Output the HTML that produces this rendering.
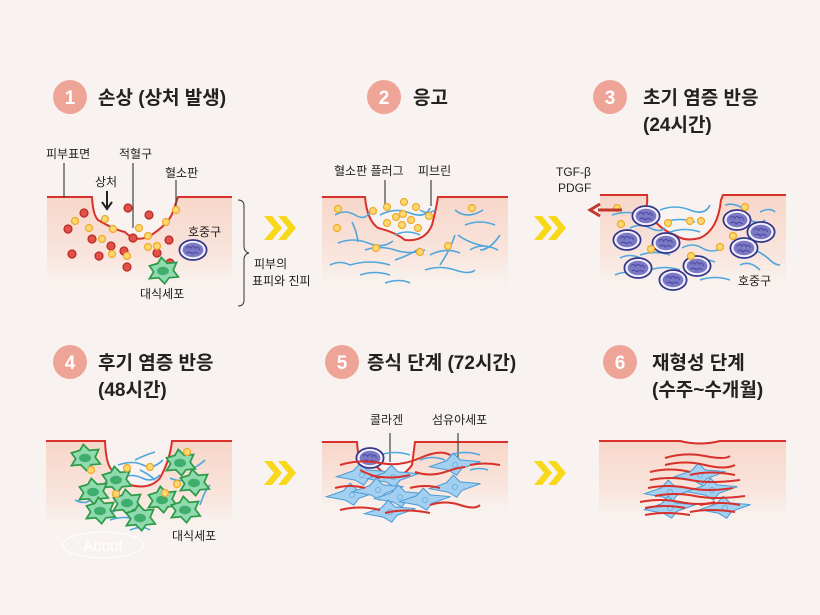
<!DOCTYPE html>
<html><head><meta charset="utf-8"><style>
html,body{margin:0;padding:0;background:#f8f3f0;}
svg{display:block;}
text{font-family:"Liberation Sans","Noto Sans CJK KR",sans-serif;}
.t{font-size:19px;font-weight:bold;fill:#222;}
.n{font-size:19px;font-weight:bold;fill:#fff;text-anchor:middle;}
.l{font-size:12px;fill:#222;}
.bf{fill:none;stroke:#4ea6dd;stroke-width:1.6;}
.rf{fill:none;stroke:#d8312b;stroke-width:2;}
.ln{stroke:#444;stroke-width:1.2;}
</style></head><body>
<svg width="820" height="615" viewBox="0 0 820 615" xmlns="http://www.w3.org/2000/svg">
<defs>
<linearGradient id="sk" x1="0" y1="0" x2="0" y2="1">
<stop offset="0" stop-color="#f7d6c9"/><stop offset="0.6" stop-color="#f9e6de"/><stop offset="1" stop-color="#f8f3f0" stop-opacity="0"/></linearGradient>
<g id="pl"><circle r="3.5" fill="#fbd870" stroke="#f0a92a" stroke-width="1.2"/></g>
<g id="rb"><circle r="4" fill="#e2504a" stroke="#b52b26" stroke-width="1.2"/></g>
<g id="ne"><g transform="scale(0.8)"><ellipse rx="17" ry="12.5" fill="#f2f0fa" stroke="#34358a" stroke-width="2.2"/><ellipse rx="13" ry="9" fill="#7b79c6"/><path d="M-9,-2 q3,-5 6,0 q3,-5 6,0 q3,-4 5,2 M-8,4 q4,-3 7,1 q3,-4 8,0" stroke="#4a4aa0" fill="none" stroke-width="1.3"/></g></g>
<g id="ma"><g transform="scale(0.85)"><path d="M-16,-6 L-6,-9 L-2,-16 L5,-9 L16,-10 L12,-1 L18,7 L7,8 L2,15 L-5,8 L-16,9 L-11,1 Z" fill="#8fdaae" stroke="#2d9a48" stroke-width="2"/><ellipse rx="7" ry="5" fill="#3fae6c"/></g></g>
<g id="fb"><g transform="scale(0.85)"><path d="M-30,2 L-10,-5 L-2,-14 L6,-6 L30,-4 L8,4 L2,12 L-8,6 Z" fill="#a3d0f0" stroke="#4a9bd6" stroke-width="1.2"/><circle r="3" fill="none" stroke="#6aaee0"/></g></g>
<g id="chev"><path d="M-12,-12 L-4,-12 L6,0 L-4,12 L-12,12 L-2,0 Z M2,-12 L10,-12 L20,0 L10,12 L2,12 L12,0 Z" fill="#f7d81a"/></g>
</defs>

<g>
<circle cx="70" cy="97" r="17" fill="#eea497"/><text class="n" x="70" y="104">1</text><text class="t" x="98" y="104">손상 (상처 발생)</text>
<circle cx="384" cy="97" r="17" fill="#eea497"/><text class="n" x="384" y="104">2</text><text class="t" x="413" y="104">응고</text>
<circle cx="610" cy="97" r="17" fill="#eea497"/><text class="n" x="610" y="104">3</text><text class="t" x="643" y="104">초기 염증 반응</text><text class="t" x="643" y="131">(24시간)</text>
<circle cx="70" cy="362" r="17" fill="#eea497"/><text class="n" x="70" y="369">4</text><text class="t" x="98" y="369">후기 염증 반응</text><text class="t" x="98" y="396">(48시간)</text>
<circle cx="342" cy="362" r="17" fill="#eea497"/><text class="n" x="342" y="369">5</text><text class="t" x="367" y="369">증식 단계 (72시간)</text>
<circle cx="620" cy="362" r="17" fill="#eea497"/><text class="n" x="620" y="369">6</text><text class="t" x="652" y="369">재형성 단계</text><text class="t" x="652" y="396">(수주~수개월)</text>
</g>

<use href="#chev" x="276" y="228"/><use href="#chev" x="546" y="228"/>
<use href="#chev" x="276" y="473"/><use href="#chev" x="546" y="473"/>

<!-- Panel 1 -->
<path d="M47,197 H92 Q93,215 98,220 Q115,230 125,232 Q135,243 150,236 Q168,224 172,214 Q176,203 178,197 H232 V300 H47 Z" fill="url(#sk)"/>
<path d="M47,197 H92 Q93,215 98,220 Q115,230 125,232 Q135,243 150,236 Q168,224 172,214 Q176,203 178,197 H232" class="rf" stroke-width="1.5"/>
<line x1="64" y1="163" x2="64" y2="198" class="ln"/><line x1="133" y1="163" x2="133" y2="228" class="ln"/><line x1="176" y1="180" x2="176" y2="207" class="ln"/>
<text class="l" x="46" y="158">피부표면</text><text class="l" x="119" y="158">적혈구</text><text class="l" x="165" y="177">혈소판</text><text class="l" x="95" y="186">상처</text>
<path d="M107,191 V207 M102,202 L107,209 L112,202" stroke="#222" stroke-width="2" fill="none"/>
<g>
<use href="#rb" x="84" y="213"/><use href="#rb" x="128" y="208"/><use href="#rb" x="149" y="215"/><use href="#rb" x="68" y="229"/><use href="#rb" x="92" y="239"/><use href="#rb" x="111" y="246"/><use href="#rb" x="133" y="238"/><use href="#rb" x="124" y="251"/><use href="#rb" x="169" y="240"/><use href="#rb" x="72" y="254"/><use href="#rb" x="99" y="256"/><use href="#rb" x="157" y="253"/><use href="#rb" x="127" y="267"/><use href="#rb" x="170" y="263"/>
<use href="#pl" x="75" y="221"/><use href="#pl" x="105" y="219"/><use href="#pl" x="89" y="228"/><use href="#pl" x="113" y="229"/><use href="#pl" x="139" y="228"/><use href="#pl" x="166" y="222"/><use href="#pl" x="176" y="210"/><use href="#pl" x="102" y="239"/><use href="#pl" x="148" y="236"/><use href="#pl" x="157" y="246"/><use href="#pl" x="148" y="247"/><use href="#pl" x="112" y="254"/><use href="#pl" x="127" y="256"/>
</g>
<use href="#ne" x="193" y="250"/><use href="#ma" x="163" y="271"/>
<text class="l" x="188" y="236">호중구</text><text class="l" x="140" y="298">대식세포</text>
<path d="M238,200 q6,0 6,6 v40 q0,6 5,7 q-5,1 -5,7 v40 q0,6 -6,6" fill="none" stroke="#333" stroke-width="1"/>
<text class="l" x="254" y="268">피부의</text><text class="l" x="252" y="285">표피와 진피</text>

<!-- Panel 2 -->
<path d="M322,197 H365 Q367,220 378,228 Q395,232 405,240 Q425,242 432,225 Q436,210 438,197 H508 V300 H322 Z" fill="url(#sk)"/>
<path d="M322,197 H365 Q367,220 378,228 Q395,232 405,240 Q425,242 432,225 Q436,210 438,197 H508" class="rf" stroke-width="1.5"/>
<line x1="385" y1="180" x2="385" y2="208" class="ln"/><line x1="431" y1="180" x2="431" y2="206" class="ln"/>
<text class="l" x="334" y="175">혈소판 플러그</text><text class="l" x="418" y="175">피브린</text>
<g class="bf">
<path d="M335,215 q10,-6 20,0 t15,-3"/><path d="M352,222 q5,10 6,20"/><path d="M338,243 q15,-6 30,0 t25,-2"/><path d="M380,215 q15,-8 30,-2 t20,-5"/><path d="M395,235 q12,-6 25,0"/><path d="M420,210 q8,5 15,0"/><path d="M365,250 q15,-5 30,0 t30,0"/><path d="M350,265 q20,-6 40,0"/><path d="M395,260 q15,-5 25,-12"/><path d="M430,255 q15,-8 30,-2"/><path d="M455,210 q12,10 28,0"/><path d="M465,225 q15,-6 30,0"/><path d="M458,235 q10,8 30,12"/><path d="M470,250 q12,-8 28,0"/><path d="M480,250 q10,0 20,-15"/><path d="M360,275 q15,-5 30,0"/><path d="M425,270 q15,-5 30,0 t20,0"/><path d="M440,265 q10,-15 15,-30"/><path d="M330,265 q10,-5 20,0"/><path d="M385,283 q15,-5 25,0"/>
</g>
<g>
<use href="#pl" x="338" y="209"/><use href="#pl" x="337" y="228"/><use href="#pl" x="373" y="211"/><use href="#pl" x="387" y="207"/><use href="#pl" x="404" y="202"/><use href="#pl" x="416" y="207"/><use href="#pl" x="396" y="217"/><use href="#pl" x="403" y="214"/><use href="#pl" x="411" y="220"/><use href="#pl" x="387" y="223"/><use href="#pl" x="402" y="225"/><use href="#pl" x="418" y="228"/><use href="#pl" x="429" y="216"/><use href="#pl" x="376" y="248"/><use href="#pl" x="420" y="252"/><use href="#pl" x="448" y="246"/><use href="#pl" x="472" y="208"/>
</g>

<!-- Panel 3 -->
<path d="M600,195 H647 Q648,205 645,210 Q660,230 675,235 Q685,242 700,238 Q718,230 721,200 L723,195 H786 V300 H600 Z" fill="url(#sk)"/>
<path d="M600,195 H647 Q648,205 645,210 Q660,230 675,235 Q685,242 700,238 Q718,230 721,200 L723,195 H786" class="rf" stroke-width="1.5"/>
<g class="bf">
<path d="M612,215 q15,-5 30,0"/><path d="M630,228 q10,-5 20,0 t15,0"/><path d="M660,210 q15,-6 30,0 t20,-5"/><path d="M665,222 q15,-5 30,0"/><path d="M670,232 q15,-5 30,0"/><path d="M682,248 q10,-6 20,0 t20,0"/><path d="M640,255 q15,-5 30,0"/><path d="M620,258 q10,-5 20,0"/><path d="M650,270 q15,-5 30,0"/><path d="M685,262 q15,-6 30,0"/><path d="M700,280 q15,-5 30,0"/><path d="M725,205 q10,-3 20,5"/><path d="M730,220 q10,-5 20,0 t15,0"/><path d="M735,245 q10,-5 20,0"/><path d="M755,250 q10,5 15,10 t10,5"/><path d="M615,275 q10,-5 20,0"/><path d="M760,212 q10,-5 15,0"/><path d="M740,265 q10,-5 20,5"/>
</g>
<use href="#ne" x="646" y="216"/><use href="#ne" x="627" y="240"/><use href="#ne" x="666" y="243"/><use href="#ne" x="638" y="268"/><use href="#ne" x="673" y="280"/><use href="#ne" x="697" y="266"/><use href="#ne" x="737" y="220"/><use href="#ne" x="761" y="232"/><use href="#ne" x="744" y="248"/>
<g><use href="#pl" x="617" y="208"/><use href="#pl" x="621" y="224"/><use href="#pl" x="668" y="223"/><use href="#pl" x="690" y="221"/><use href="#pl" x="701" y="221"/><use href="#pl" x="651" y="249"/><use href="#pl" x="720" y="247"/><use href="#pl" x="733" y="236"/><use href="#pl" x="691" y="256"/><use href="#pl" x="745" y="207"/></g>
<path d="M622,210 H598" stroke="#c0382e" stroke-width="3"/><path d="M600,204 L590,210 L600,216" stroke="#c0382e" stroke-width="3" fill="none"/>
<text class="l" x="556" y="176">TGF-β</text><text class="l" x="558" y="192">PDGF</text>
<text class="l" x="738" y="285">호중구</text>

<!-- Panel 4 -->
<path d="M46,441 H105 Q106,465 112,470 Q125,480 130,485 Q150,490 160,478 Q170,460 172,441 H232 V540 H46 Z" fill="url(#sk)"/>
<path d="M46,441 H105 Q106,465 112,470 Q125,480 130,485 Q150,490 160,478 Q170,460 172,441 H232" class="rf" stroke-width="1.5"/>
<g class="bf">
<path d="M118,465 q15,-5 25,0 t20,-5"/><path d="M120,478 q12,-5 22,0 t18,-3"/><path d="M135,460 q10,-5 20,-8"/><path d="M140,470 q10,5 15,10"/><path d="M170,478 q10,5 18,0"/><path d="M160,505 q12,-8 25,5"/><path d="M95,512 q10,-5 20,0"/><path d="M110,520 q15,-5 30,0"/><path d="M190,470 q10,-5 15,-10"/><path d="M150,495 q10,-5 20,0"/><path d="M75,500 q10,5 15,0"/><path d="M200,505 q5,-15 10,-20"/><path d="M130,530 q12,-5 20,0"/>
</g>
<use href="#ma" x="85" y="458"/><use href="#ma" x="180" y="463"/><use href="#ma" x="116" y="480"/><use href="#ma" x="93" y="492"/><use href="#ma" x="194" y="483"/><use href="#ma" x="127" y="503"/><use href="#ma" x="162" y="500"/><use href="#ma" x="100" y="511"/><use href="#ma" x="140" y="518"/><use href="#ma" x="185" y="510"/>
<g><use href="#pl" x="91" y="470"/><use href="#pl" x="127" y="468"/><use href="#pl" x="150" y="467"/><use href="#pl" x="187" y="452"/><use href="#pl" x="177" y="484"/><use href="#pl" x="116" y="494"/><use href="#pl" x="165" y="493"/></g>
<text class="l" x="172" y="540">대식세포</text>
<ellipse cx="103" cy="545" rx="40" ry="13" fill="none" stroke="#fff" stroke-width="1"/>
<text x="103" y="551" text-anchor="middle" font-family="Liberation Serif,serif" font-size="15" fill="#fff">About</text>

<!-- Panel 5 -->
<path d="M322,442 H357 Q358,456 360,460 Q368,465 375,465 Q385,475 392,480 Q405,475 412,465 Q414,450 415,442 H508 V520 H322 Z" fill="url(#sk)"/>
<path d="M322,442 H357 Q358,456 360,460 Q368,465 375,465 Q385,475 392,480 Q405,475 412,465 Q414,450 415,442 H508" class="rf" stroke-width="1.5"/>
<line x1="390" y1="433" x2="390" y2="462" class="ln"/><line x1="458" y1="433" x2="458" y2="464" class="ln"/>
<text class="l" x="370" y="424">콜라겐</text><text class="l" x="432" y="424">섬유아세포</text>
<g class="bf"><path d="M380,455 q15,-5 30,0"/><path d="M420,460 q12,-5 25,0"/><path d="M450,455 q15,-5 30,0"/><path d="M470,470 q10,-3 18,0"/></g>
<use href="#fb" x="362" y="475"/><use href="#fb" x="393" y="477"/><use href="#fb" x="455" y="465"/><use href="#fb" x="352" y="495"/><use href="#fb" x="378" y="490"/><use href="#fb" x="400" y="497"/><use href="#fb" x="455" y="487"/><use href="#fb" x="425" y="500"/><use href="#fb" x="390" y="512"/>
<use href="#ne" x="370" y="458"/>
<g class="rf">
<path d="M340,465 q20,-6 40,-2 t40,-5 t30,-3"/><path d="M415,472 q15,5 30,0 t20,-5"/><path d="M370,475 q20,5 40,0"/><path d="M335,488 q15,-4 30,0"/><path d="M410,488 q15,-4 30,0"/><path d="M470,465 q15,-3 30,0"/><path d="M340,510 q20,-5 40,0"/><path d="M385,513 q20,-5 45,0"/><path d="M430,505 q15,-5 30,0 t20,0"/><path d="M360,470 q10,5 20,8"/>
</g>

<!-- Panel 6 -->
<path d="M599,441 H680 Q700,446 720,441 H786 V530 H599 Z" fill="url(#sk)"/>
<path d="M599,441 H680 Q700,446 720,441 H786" class="rf" stroke-width="1.5"/>
<use href="#fb" x="700" y="475"/><use href="#fb" x="670" y="492"/><use href="#fb" x="712" y="490"/><use href="#fb" x="670" y="508"/><use href="#fb" x="725" y="508"/>
<g class="rf">
<path d="M665,458 q20,-6 40,-2 t25,0"/><path d="M665,465 q20,-5 40,0 t30,0"/><path d="M650,472 q20,-5 40,0"/><path d="M690,475 q20,-5 45,0"/><path d="M650,480 q20,-4 40,0 t50,0"/><path d="M648,488 q20,-4 40,0 t45,0"/><path d="M655,496 q20,-4 40,0 t50,0"/><path d="M640,502 q20,-4 40,0 t35,0"/><path d="M645,508 q20,-4 40,0"/><path d="M700,505 q20,-4 40,0"/><path d="M645,515 q20,-4 45,0"/><path d="M690,512 q20,-4 45,0"/>
</g>
</svg>
</body></html>
